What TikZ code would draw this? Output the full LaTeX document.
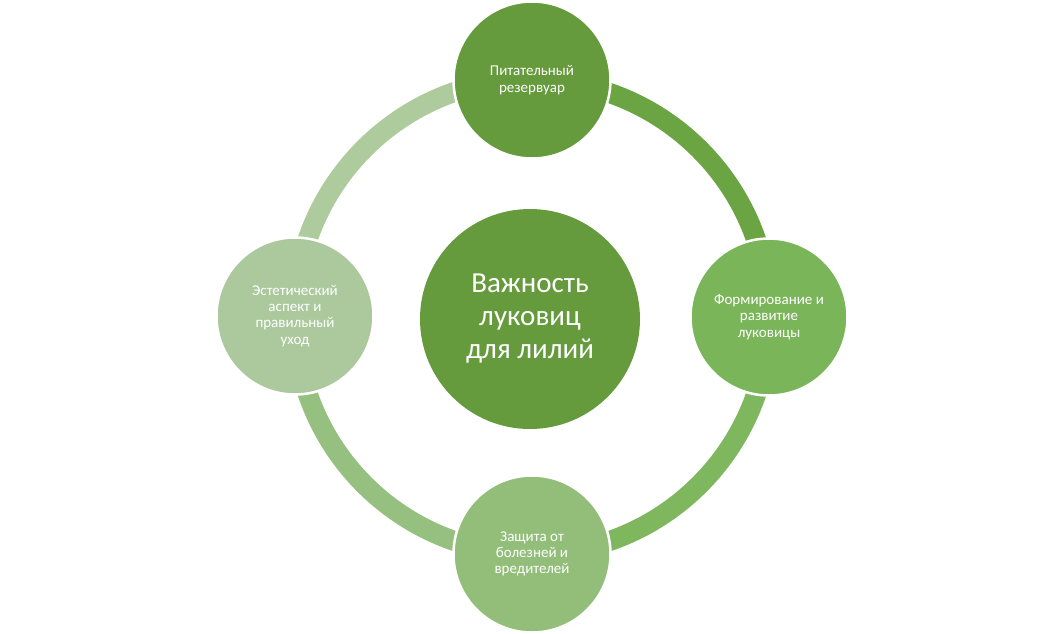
\documentclass[tikz,border=0pt]{standalone}
\usepackage{fontspec}
\setmainfont{Carlito}
\definecolor{cmain}{HTML}{659A3D}
\definecolor{ctop}{HTML}{659A3D}
\definecolor{arctr}{HTML}{6BA443}
\definecolor{cright}{HTML}{7AB55A}
\definecolor{arcrb}{HTML}{7FB75F}
\definecolor{cbottom}{HTML}{92BE7A}
\definecolor{arcbl}{HTML}{96C07F}
\definecolor{cleft}{HTML}{ABC99C}
\definecolor{arclt}{HTML}{AECB9D}

\begin{document}
\begin{tikzpicture}[x=1pt, y=1pt,
  main/.style={circle, fill=cmain, minimum size=220pt, inner sep=0pt, text=white, align=center, font=\fontsize{29}{33}\selectfont},
  sat/.style={circle, draw=white, line width=2.5pt, minimum size=157pt, inner sep=0pt, text=white, align=center, font=\fontsize{15}{16.3}\selectfont},
  ring/.style={line width=20pt}]
  \useasboundingbox (0,0) rectangle (1063,-633);
  % nodes
  \coordinate (O) at (532,-317);
  \coordinate (t) at (532,-80);
  \coordinate (r) at (769,-317);
  \coordinate (b) at (532,-554);
  \coordinate (l) at (295,-316);
  % ring
  \draw [ring, arctr] (t) arc[start angle=90, end angle=0, radius=237];
  \draw [ring, arcrb] (r) arc[start angle=0, end angle=-90, radius=237];
  \draw [ring, arcbl] (b) arc[start angle=-90, end angle=-180, radius=237];
  \draw [ring, arclt] (l) arc[start angle=180, end angle=90, radius=237];
  % circles
  \node[main] (C) at (530,-319) {Важность\\луковиц\\для лилий};
  \node[sat, fill=ctop] (T) at (t) {Питательный\\резервуар};
  \node[sat, fill=cright] (R) at (r) {Формирование и\\развитие\\луковицы};
  \node[sat, fill=cbottom] (B) at (b) {Защита от\\болезней и\\вредителей};
  \node[sat, fill=cleft] (L) at (l) {Эстетический\\аспект и\\правильный\\уход};
\end{tikzpicture}
\end{document}
